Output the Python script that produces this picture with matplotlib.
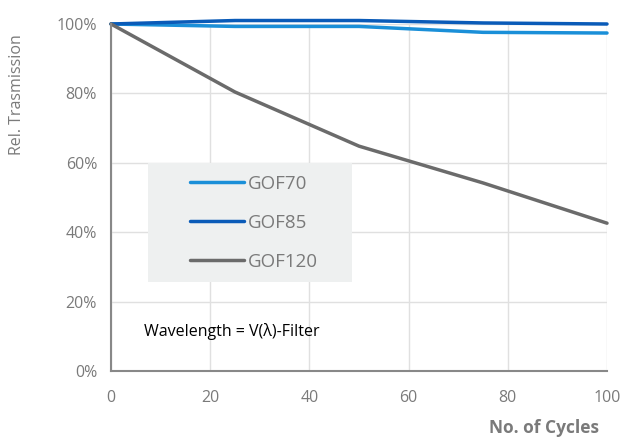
import matplotlib
matplotlib.use("Agg")
import matplotlib.pyplot as plt
from matplotlib.ticker import FuncFormatter
from matplotlib.patches import Rectangle

plt.rcParams['font.family'] = ['Open Sans', 'DejaVu Sans']

cycles = [0, 25, 50, 75, 100]
gof70 = [100, 99.3, 99.3, 97.6, 97.4]
gof85 = [100, 101.0, 101.0, 100.3, 100.0]
gof120 = [100, 80.4, 64.8, 54.2, 42.6]
series_names = ["GOF70", "GOF85", "GOF120"]
colors = ["#1a8fd8", "#0a5bb8", "#6b6b6b"]

W, H = 639, 440
x0, x1, y0, y1 = 111, 607, 371, 24
fig = plt.figure(figsize=(W/100, H/100), dpi=100)
ax = fig.add_axes([x0/W, 1-y0/H, (x1-x0)/W, (y0-y1)/H])

def axx(px):
    return (px - x0) / (x1 - x0)

def axy(py):
    return (y0 - py) / (y0 - y1)

for vals, name, c in zip([gof70, gof85, gof120], series_names, colors):
    ax.plot(cycles, vals, color=c, lw=2.5, label=name, solid_capstyle='round', clip_on=False)

ax.set_xlim(0, 100)
ax.set_ylim(0, 100)
ax.set_xticks([0, 20, 40, 60, 80, 100])
ax.set_yticks([0, 20, 40, 60, 80, 100])
ax.yaxis.set_major_formatter(FuncFormatter(lambda v, p: f"{int(v)}%"))
ax.grid(True, color="#e0e0e0", lw=1)
ax.set_axisbelow(True)
for s in ["top", "right"]:
    ax.spines[s].set_visible(False)
for s in ["left", "bottom"]:
    ax.spines[s].set_color("#888888")
    ax.spines[s].set_linewidth(1.5)
ax.tick_params(length=0, labelcolor="#7a7a7a", labelsize=11.5, pad=10)
ax.tick_params(axis='x', pad=14)

fig.text(17/W, 1-95/H, "Rel. Trasmission", rotation=90, ha='center', va='center',
         color="#7a7a7a", fontsize=11.5)
fig.text(544/W, 1-428/H, "No. of Cycles", ha='center', va='center',
         color="#7a7a7a", fontsize=12.5, fontweight='bold')

ax.add_patch(Rectangle((axx(148), axy(282)), axx(352)-axx(148), axy(163)-axy(282),
                       transform=ax.transAxes, facecolor="#eef0f0", edgecolor='none',
                       zorder=2.5))

leg = ax.legend(loc='upper left', bbox_to_anchor=(axx(190), axy(175)),
                frameon=False, fontsize=13.5, handlelength=2.9,
                handletextpad=0.2, labelspacing=1.12, borderpad=0,
                borderaxespad=0)
leg.set_zorder(3)
for t in leg.get_texts():
    t.set_color("#7a7a7a")

ax.text(axx(144), axy(331), "Wavelength = V(λ)-Filter", transform=ax.transAxes,
        fontsize=11.5, color="#000000", ha='left', va='center')

fig.savefig("out.png", dpi=100)
